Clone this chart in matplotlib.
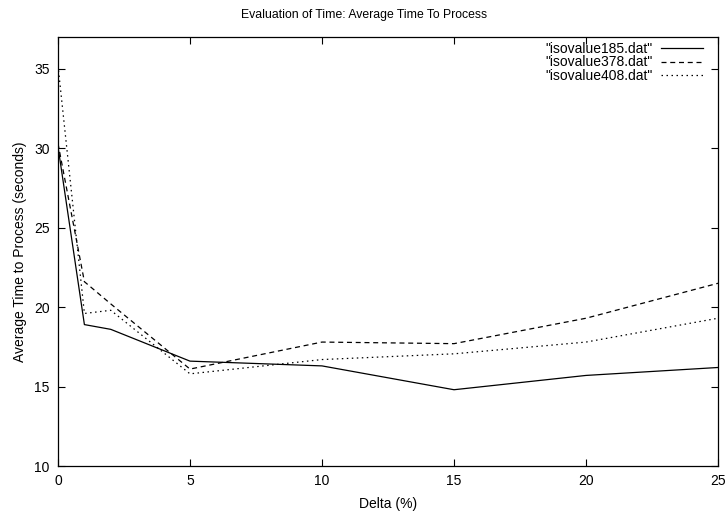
import matplotlib
matplotlib.use("Agg")
import matplotlib.pyplot as plt

delta = [0, 1, 2, 5, 10, 15, 20, 25]
iso185 = [30.1, 18.9, 18.6, 16.6, 16.3, 14.8, 15.7, 16.2]
iso378 = [30.3, 21.6, 20.2, 16.1, 17.8, 17.7, 19.3, 21.5]
iso408 = [35.2, 19.6, 19.8, 15.8, 16.7, 17.06, 17.8, 19.3]
labels = ['"isovalue185.dat"', '"isovalue378.dat"', '"isovalue408.dat"']

plt.rcParams['font.family'] = ['Liberation Sans', 'DejaVu Sans']
FS = 10

fig = plt.figure(figsize=(7.26, 5.17), dpi=100)
ax = fig.add_axes([58/726, 1-466/517, (718-58)/726, (466-37)/517])

ax.plot(delta, iso185, color='black', lw=0.9, label=labels[0])
ax.plot(delta, iso378, color='black', lw=0.9, dashes=(4, 3), label=labels[1])
ax.plot(delta, iso408, color='black', lw=0.9, dashes=(1.2, 2.8), label=labels[2])

ax.set_xlim(0, 25)
ax.set_ylim(10, 37)
ax.set_xticks([0, 5, 10, 15, 20, 25])
ax.set_yticks([10, 15, 20, 25, 30, 35])
ax.tick_params(direction='in', top=True, right=True, length=5, width=0.8, pad=6, labelsize=FS)
for s in ax.spines.values():
    s.set_linewidth(0.9)

ax.set_xlabel('Delta (%)', fontsize=FS, labelpad=6)
ax.set_ylabel('Average Time to Process (seconds)', fontsize=FS, labelpad=5)
fig.text(364/726, 1-15/517, 'Evaluation of Time: Average Time To Process', ha='center', va='center', fontsize=8.8)

leg = ax.legend(loc='upper right', bbox_to_anchor=(0.977, 0.988), frameon=False, markerfirst=False,
                handlelength=3.0, fontsize=FS, borderaxespad=0.0, borderpad=0.0,
                labelspacing=-0.05, handletextpad=0.6)
for t in leg.get_texts():
    t.set_ha('right')

fig.savefig('out.png', dpi=100)
